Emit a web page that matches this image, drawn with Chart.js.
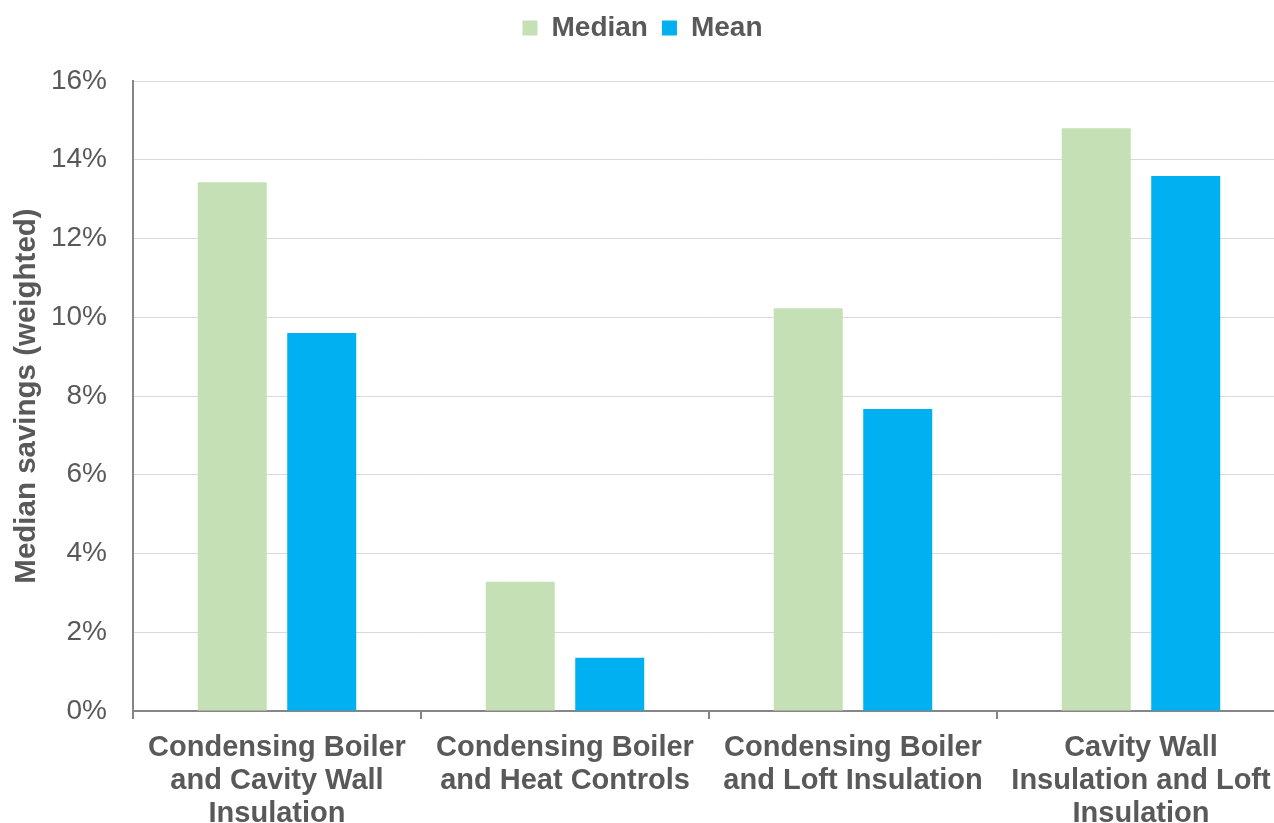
<!DOCTYPE html>
<html>
<head>
<meta charset="utf-8">
<script src="https://cdn.jsdelivr.net/npm/chart.js@4.4.0/dist/chart.umd.min.js"></script>
<style>
  html, body { margin: 0; padding: 0; overflow: hidden; background: #fff; }
  #wrap { position: absolute; left: 0; top: 0; width: 1290px; height: 850px; }
</style>
</head>
<body>
<div id="wrap"><canvas id="bar-chart" width="1290" height="850"></canvas></div>
<script>
// data
const categories = [
    ['Condensing Boiler', 'and Cavity Wall', 'Insulation'],
    ['Condensing Boiler', 'and Heat Controls'],
    ['Condensing Boiler', 'and Loft Insulation'],
    ['Cavity Wall', 'Insulation and Loft', 'Insulation']
];
const medianValues = [13.43, 3.28, 10.23, 14.8];
const meanValues = [9.6, 1.35, 7.67, 13.59];
const yTicks = [0, 2, 4, 6, 8, 10, 12, 14, 16];

const textGrey = '#595959';
const fontFamily = '"Liberation Sans", Arial, sans-serif';

// push the plot down below the legend
const legendGap = {
    id: 'legendGap',
    beforeInit(chart) {
        const origFit = chart.legend.fit;
        chart.legend.fit = function () {
            origFit.bind(chart.legend)();
            this.height += 29;
        };
    }
};

new Chart(
    document.getElementById('bar-chart'),
    {
        type: 'bar',
        data: {
            labels: categories,
            datasets: [
                {
                    label: 'Median',
                    data: medianValues,
                    backgroundColor: '#c5e0b4',
                    categoryPercentage: 0.6215,
                    barPercentage: 0.771
                },
                {
                    label: 'Mean',
                    data: meanValues,
                    backgroundColor: '#00b0f0',
                    categoryPercentage: 0.6215,
                    barPercentage: 0.771
                }
            ]
        },
        options: {
            responsive: false,
            animation: false,
            devicePixelRatio: 1,
            layout: { padding: { left: 0, right: 5, top: 0, bottom: 0 } },
            plugins: {
                legend: {
                    position: 'top',
                    labels: {
                        boxWidth: 15,
                        boxHeight: 15,
                        padding: 14,
                        color: textGrey,
                        font: { family: fontFamily, size: 28, weight: 'bold' }
                    }
                },
                tooltip: { enabled: false }
            },
            scales: {
                x: {
                    afterFit: scale => { scale.height = 139; },
                    grid: {
                        drawOnChartArea: false,
                        drawTicks: true,
                        tickLength: 8,
                        color: '#868686',
                        lineWidth: 2
                    },
                    border: { color: '#868686', width: 2 },
                    ticks: {
                        color: textGrey,
                        padding: 13,
                        maxRotation: 0,
                        autoSkip: false,
                        font: { family: fontFamily, size: 29, weight: 'bold', lineHeight: 1.13 }
                    }
                },
                y: {
                    min: 0,
                    max: 16,
                    afterFit: scale => { scale.width = 133; },
                    afterBuildTicks: scale => { scale.ticks = yTicks.map(v => ({ value: v })); },
                    grid: { color: '#d9d9d9', lineWidth: 1, drawTicks: false },
                    border: { color: '#868686', width: 2 },
                    ticks: {
                        color: textGrey,
                        padding: 26,
                        font: { family: fontFamily, size: 28 },
                        callback: v => v + '%'
                    },
                    title: {
                        display: true,
                        text: 'Median savings (weighted)',
                        color: textGrey,
                        padding: { top: 9, bottom: 0 },
                        font: { family: fontFamily, size: 29.5, weight: 'bold' }
                    }
                }
            }
        },
        plugins: [legendGap]
    }
);
</script>
</body>
</html>
